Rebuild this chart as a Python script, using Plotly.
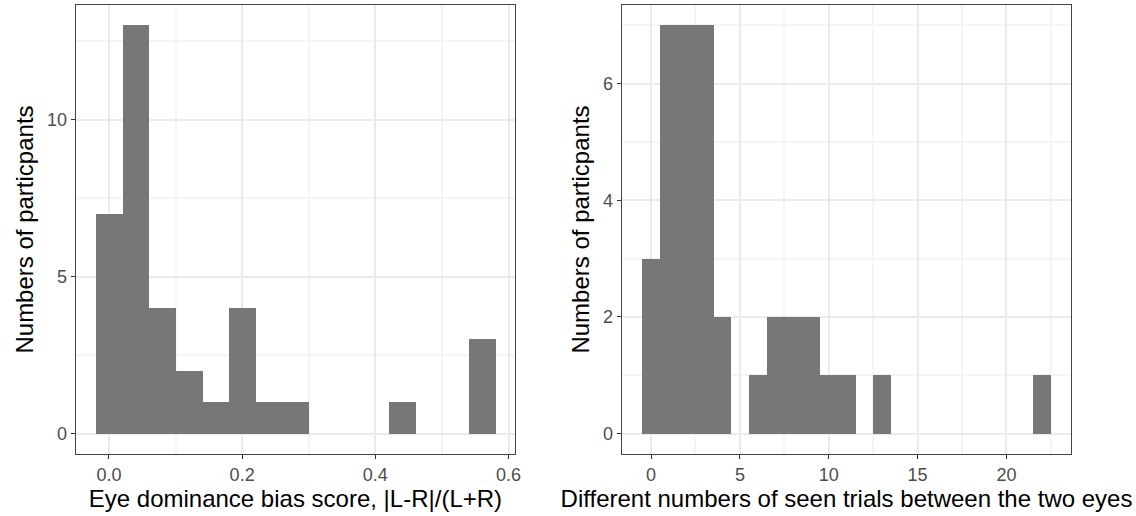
import plotly.graph_objects as go

# Left histogram: eye dominance bias score (bin width 0.04)
bias_bin_centers = [0.00, 0.04, 0.08, 0.12, 0.16, 0.20, 0.24, 0.28, 0.32, 0.36, 0.40, 0.44, 0.48, 0.52, 0.56]
bias_counts = [7, 13, 4, 2, 1, 4, 1, 1, 0, 0, 0, 1, 0, 0, 3]

# Right histogram: difference in seen trials (bin width 1)
diff_bin_centers = list(range(0, 23))
diff_counts = [3, 7, 7, 7, 2, 0, 1, 2, 2, 2, 1, 1, 0, 1, 0, 0, 0, 0, 0, 0, 0, 0, 1]

left_xticks = [0.0, 0.2, 0.4, 0.6]
left_xticklabels = ["0.0", "0.2", "0.4", "0.6"]
left_yticks = [0, 5, 10]
right_xticks = [0, 5, 10, 15, 20]
right_yticks = [0, 2, 4, 6]

x_title_left = "Eye dominance bias score, |L-R|/(L+R)"
x_title_right = "Different numbers of seen trials between the two eyes"
y_title = "Numbers of particpants"

BAR = "rgb(119,119,119)"
GRID = "#EBEBEB"
MINOR = "#F5F5F5"
FONT = "Liberation Sans, Arial, sans-serif"

fig = go.Figure()
fig.add_trace(go.Bar(x=bias_bin_centers, y=bias_counts, width=0.04,
                     marker=dict(color=BAR, line=dict(width=0)),
                     xaxis="x", yaxis="y", showlegend=False))
fig.add_trace(go.Bar(x=diff_bin_centers, y=diff_counts, width=1,
                     marker=dict(color=BAR, line=dict(width=0)),
                     xaxis="x2", yaxis="y2", showlegend=False))

W, H = 1136, 516
def px_x(a, b):
    return [a / W, b / W]
ydom = [(H - 454) / H, (H - 5) / H]

axis_common = dict(
    showline=True, linecolor="#444444", linewidth=1, mirror=True,
    ticks="outside", ticklen=4, tickcolor="#333333", tickwidth=1,
    gridcolor=GRID, gridwidth=1.5, zeroline=False,
    tickfont=dict(family=FONT, size=18, color="#4D4D4D"),
    title_font=dict(family=FONT, size=24, color="#000000"),
)

fig.update_layout(
    width=W, height=H, margin=dict(l=0, r=0, t=0, b=0),
    plot_bgcolor="white", paper_bgcolor="white", bargap=0,
    font=dict(family=FONT),
    xaxis=dict(domain=px_x(76, 518), anchor="y", range=[-0.05, 0.61],
               tickvals=left_xticks, ticktext=left_xticklabels,
               minor=dict(tickvals=[0.1, 0.3, 0.5], showgrid=True, gridcolor=MINOR, ticks=""),
               title=dict(text=x_title_left, standoff=6), **axis_common),
    yaxis=dict(domain=ydom, anchor="x", range=[-0.65, 13.65], tickvals=left_yticks,
               minor=dict(tickvals=[2.5, 7.5, 12.5], showgrid=True, gridcolor=MINOR, ticks=""),
               title=dict(text=y_title, standoff=6), **axis_common),
    xaxis2=dict(domain=px_x(625, 1077), anchor="y2", range=[-1.65, 23.65],
                tickvals=right_xticks,
                minor=dict(tickvals=[2.5, 7.5, 12.5, 17.5, 22.5], showgrid=True, gridcolor=MINOR, ticks=""),
                title=dict(text=x_title_right, standoff=6), **axis_common),
    yaxis2=dict(domain=ydom, anchor="x2", range=[-0.35, 7.35], tickvals=right_yticks,
                minor=dict(tickvals=[1, 3, 5, 7], showgrid=True, gridcolor=MINOR, ticks=""),
                title=dict(text=y_title, standoff=6), **axis_common),
)

fig.write_html("out.html", config={"displayModeBar": False},
               post_script="document.body.style.margin='0px';")
